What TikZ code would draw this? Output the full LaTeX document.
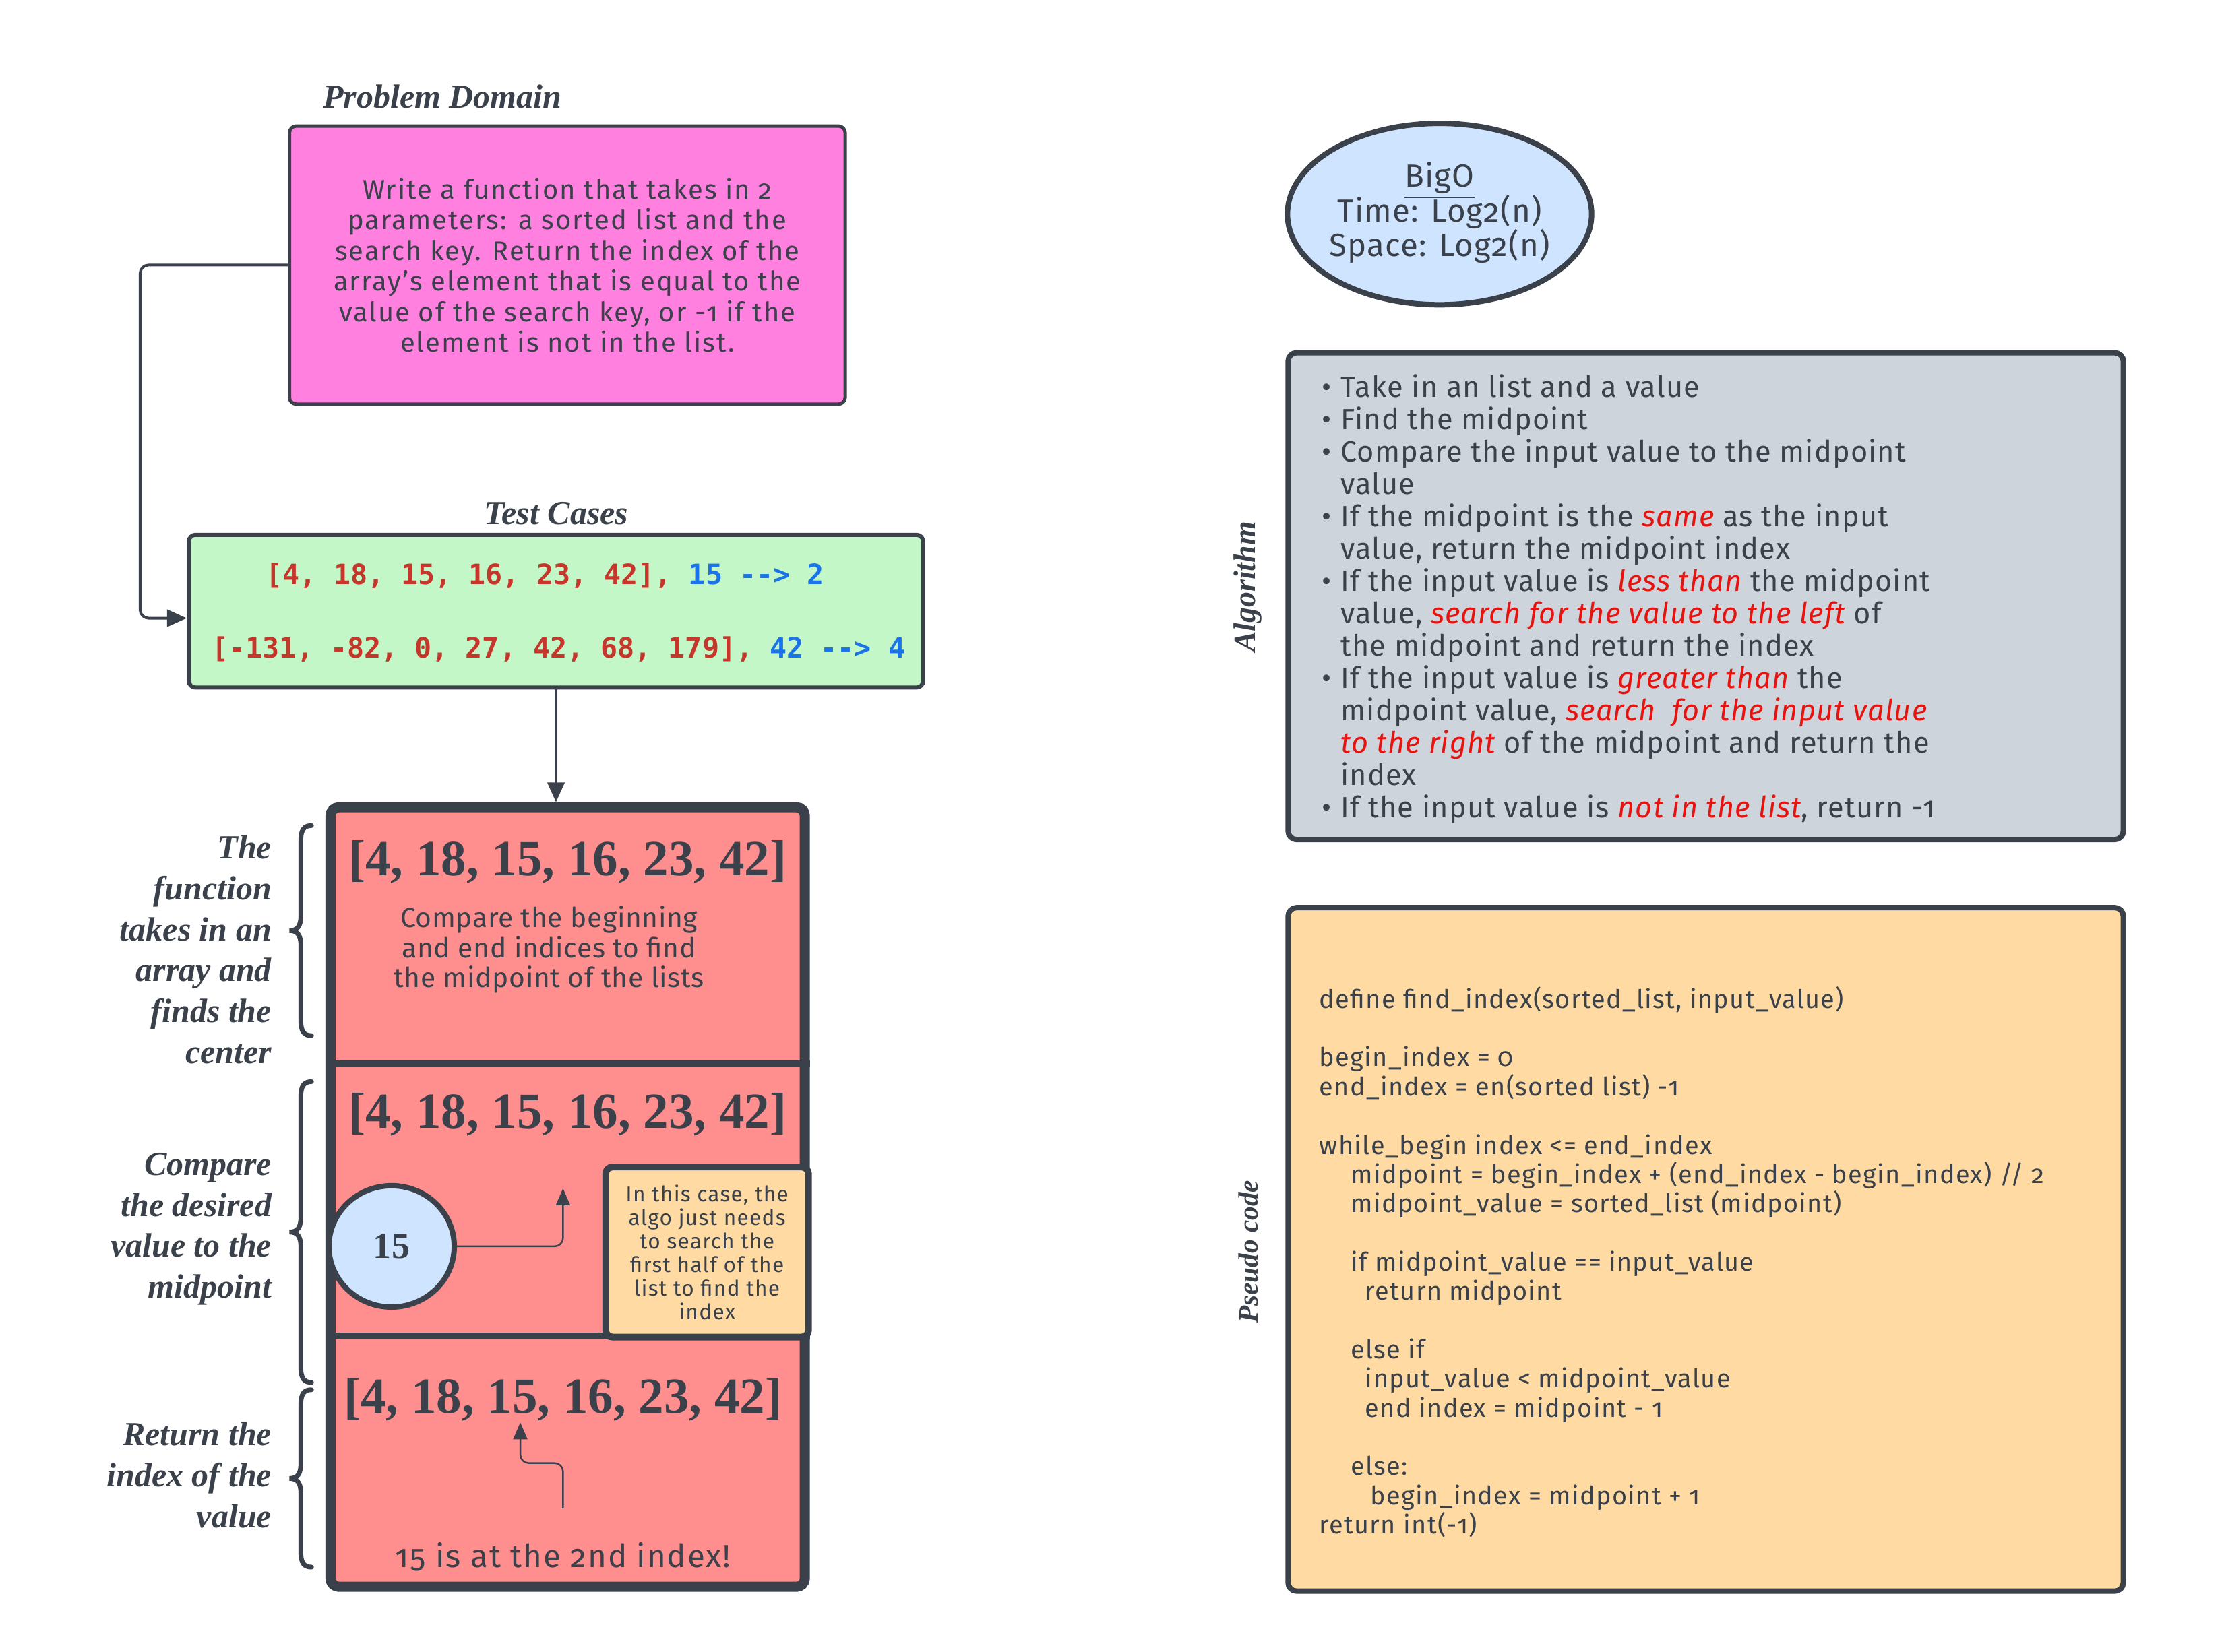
\documentclass[tikz,border=0pt]{standalone}
\usepackage{fontspec}
\setmainfont{Liberation Serif}
\newfontfamily\ui[Numbers=OldStyle]{Fira Sans}
\newfontfamily\mono{DejaVu Sans Mono}
\usetikzlibrary{arrows.meta,shapes.geometric}
\definecolor{ink}{HTML}{3A414A}
\definecolor{pinkfill}{HTML}{FF80DF}
\definecolor{greenfill}{HTML}{C3F7C8}
\definecolor{redfill}{HTML}{FF8F8F}
\definecolor{bluefill}{HTML}{CFE4FF}
\definecolor{grayfill}{HTML}{CED4DB}
\definecolor{yellowfill}{HTML}{FFDBA3}
\definecolor{cred}{HTML}{C7362B}
\definecolor{cblue}{HTML}{1A73E8}
\definecolor{tred}{HTML}{E8130F}
\def\pxu{0.237552pt}
\newcommand{\drawbrace}[2]{%
  \draw[ink, line width=1.68pt, line cap=round]
    (467,#1) .. controls (456,#1) and (451,#1+6) .. (451,#1+22)
    -- (451,{(#1+#2)/2-22})
    .. controls (451,{(#1+#2)/2-7}) and (446,{(#1+#2)/2}) .. (434,{(#1+#2)/2})
    .. controls (446,{(#1+#2)/2}) and (451,{(#1+#2)/2+7}) .. (451,{(#1+#2)/2+22})
    -- (451,#2-22) .. controls (451,#2-6) and (456,#2) .. (467,#2);}
\newcommand{\algline}[3]{\node[algtxt] (al#1) at (#2,{586+48.5*#1}) {#3};}
\newcommand{\algbullet}[1]{\node[algtxt] (ab#1) at (1981,{586+48.5*#1}) {•};}
\newcommand{\codeline}[3]{\node[codetxt] (cl#1) at (#2,{1502+43.8*#1}) {#3};}
\begin{document}
\begin{tikzpicture}[x=0.237552pt,y=-0.237552pt,
  box/.style={draw=ink, rounded corners=2.4pt, line width=1.2pt, inner sep=0pt},
  title/.style={font=\fontsize{12}{14}\selectfont\bfseries\itshape, text=ink},
  lbl/.style={font=\fontsize{12}{14.6}\selectfont\bfseries\itshape, text=ink, align=right, anchor=east, inner sep=0pt},
  arr/.style={draw=ink, line width=0.96pt, rounded corners=3pt, -{Triangle[length=7pt,width=6pt]}},
  thinarr/.style={draw=ink, line width=0.6pt, rounded corners=3pt, -{Triangle[length=6pt,width=5pt]}},
  biglist/.style={font=\fontsize{18}{20}\selectfont\bfseries, text=ink},
  algtxt/.style={font=\ui\addfontfeature{LetterSpace=2.7}\fontsize{10.4}{11.6}\selectfont, text=ink, anchor=mid west, inner sep=0pt},
  codetxt/.style={font=\ui\addfontfeature{LetterSpace=3.5}\fontsize{9.1}{10.5}\selectfont, text=ink, anchor=mid west, inner sep=0pt},
  bigotxt/.style={font=\ui\addfontfeature{LetterSpace=2.5}\fontsize{11.4}{12.24}\selectfont, text=ink}
]
\useasboundingbox (0,0) rectangle (3334,2476.3);

% ---------- left column ----------
\node[title] (tpd) at (663,145) {Problem Domain};
\node[box, fill=pinkfill, minimum width={833*\pxu}, minimum height={417*\pxu},
      align=center, font=\ui\addfontfeature{LetterSpace=5}\fontsize{9.6}{10.92}\selectfont, text=ink] (pink) at (850.5,397.5)
  {Write a function that takes in 2\\parameters: a sorted list and the\\search key. Return the index of the\\array’s element that is equal to the\\value of the search key, or -1 if the\\element is not in the list.};

\node[title] (ttc) at (834,770) {Test Cases};
\node[box, fill=greenfill, line width=1.44pt, minimum width={1101*\pxu}, minimum height={229*\pxu}] (green) at (833.5,916.5) {};
\node[anchor=mid west, inner sep=0pt, font=\mono\fontsize{10}{12}\selectfont\bfseries] (tc1) at (398,867)
  {\textcolor{cred}{[4, 18, 15, 16, 23, 42],} \textcolor{cblue}{15 -{}-{}> 2}};
\node[anchor=mid west, inner sep=0pt, font=\mono\fontsize{10}{12}\selectfont\bfseries] (tc2) at (317,977)
  {\textcolor{cred}{[-131, -82, 0, 27, 42, 68, 179],} \textcolor{cblue}{42 -{}-{}> 4}};

\coordinate (c1) at (210,397.5);
\coordinate (c2) at (210,927);
\draw[arr] (pink.west) -- (c1) -- (c2) -- (c2 -| green.west);

% container
\node[draw=ink, fill=redfill, line width=3.6pt, rounded corners=3pt, minimum width={711*\pxu}, minimum height={1169*\pxu}, inner sep=0pt] (cont) at (851,1795) {};
\draw[arr] (green.south) -- (green.south |- cont.north);
\coordinate (d1) at (851,1595);
\coordinate (d2) at (851,2003);
\draw[ink, line width=2.4pt] (cont.west |- d1) -- (cont.east |- d1);
\draw[ink, line width=2.4pt] (cont.west |- d2) -- (cont.east |- d2);

% section 1
\node[biglist] (l1) at (851,1292) {[4, 18, 15, 16, 23, 42]};
\node[align=center, font=\ui\addfontfeature{LetterSpace=1.5}\fontsize{9.8}{10.7}\selectfont, text=ink] (s1) at (823,1424)
  {Compare the beginning\\and end indices to find\\the midpoint of the lists};

% section 2
\node[biglist] (l2) at (851,1671) {[4, 18, 15, 16, 23, 42]};
\node[draw=ink, fill=bluefill, ellipse, line width=1.92pt, minimum width={188*\pxu}, minimum height={182*\pxu}, inner sep=0pt,
      font=\fontsize{13}{15}\selectfont\bfseries, text=ink] (circ) at (587,1869) {15};
\coordinate (a1) at (844,1782);
\draw[thinarr] (circ.east) -| (a1);
\node[draw=ink, fill=yellowfill, line width=2.4pt, rounded corners=2.4pt, minimum width={304*\pxu}, minimum height={255*\pxu}, inner sep=0pt,
      align=center, font=\ui\addfontfeature{LetterSpace=4}\fontsize{7.6}{8.4}\selectfont, text=ink] (note) at (1060,1877.5)
  {In this case, the\\algo just needs\\to search the\\first half of the\\list to find the\\index};

% section 3
\node[biglist] (l3) at (844,2099) {[4, 18, 15, 16, 23, 42]};
\coordinate (b0) at (844,2262);
\coordinate (b1) at (780,2133);
\draw[thinarr] (b0) -- ++(0,-68) -| (b1);
\node[font=\ui\addfontfeature{LetterSpace=4}\fontsize{11.4}{12}\selectfont, text=ink] (s3) at (844,2335) {15 is at the 2nd index!};

% braces and labels
\drawbrace{1238}{1553}
\drawbrace{1622}{2073}
\drawbrace{2084}{2350}
\node[lbl] (lb1) at (408,1424) {The\\function\\takes in an\\array and\\finds the\\center};
\node[lbl] (lb2) at (408,1843) {Compare\\the desired\\value to the\\midpoint};
\node[lbl] (lb3) at (408,2212) {Return the\\index of the\\value};

% ---------- right column ----------
\node[draw=ink, fill=bluefill, ellipse, line width=1.92pt, minimum width={456*\pxu}, minimum height={272*\pxu}, inner sep=0pt] (bigo) at (2158,321) {};
\node[bigotxt] (bigo1) at (2158,271) {\underline{BigO}};
\node[bigotxt] (bigo2) at (2158,318) {Time: Log2(n)};
\node[bigotxt] (bigo3) at (2158,369) {Space: Log2(n)};

\node[draw=ink, fill=grayfill, line width=1.92pt, rounded corners=3pt, minimum width={1252*\pxu}, minimum height={730*\pxu}, inner sep=0pt] (alg) at (2557,894) {};
\node[title, rotate=90, font=\fontsize{11}{12}\selectfont\bfseries\itshape] (talg) at (1871,880) {Algorithm};
\algbullet{0}\algline{0}{2009}{Take in an list and a value}
\algbullet{1}\algline{1}{2009}{Find the midpoint}
\algbullet{2}\algline{2}{2009}{Compare the input value to the midpoint}
\algline{3}{2009}{value}
\algbullet{4}\algline{4}{2009}{If the midpoint is the {\color{tred}\itshape same} as the input}
\algline{5}{2009}{value, return the midpoint index}
\algbullet{6}\algline{6}{2009}{If the input value is {\color{tred}\itshape less than} the midpoint}
\algline{7}{2009}{value, {\color{tred}\itshape search for the value to the left} of}
\algline{8}{2009}{the midpoint and return the index}
\algbullet{9}\algline{9}{2009}{If the input value is {\color{tred}\itshape greater than} the}
\algline{10}{2009}{midpoint value, {\color{tred}\itshape search\ \ for the input value}}
\algline{11}{2009}{{\color{tred}\itshape to the right} of the midpoint and return the}
\algline{12}{2009}{index}
\algbullet{13}\algline{13}{2009}{If the input value is {\color{tred}\itshape not in the list}, return -1}

\node[draw=ink, fill=yellowfill, line width=1.92pt, rounded corners=3pt, minimum width={1252*\pxu}, minimum height={1025*\pxu}, inner sep=0pt] (code) at (2557,1873.5) {};
\node[title, rotate=90, font=\fontsize{9.9}{12}\selectfont\bfseries\itshape] (tpc) at (1871,1877) {Pseudo code};
\codeline{0}{1977}{define find\_index(sorted\_list, input\_value)}
\codeline{2}{1977}{begin\_index = 0}
\codeline{3}{1977}{end\_index = en(sorted list) -1}
\codeline{5}{1977}{while\_begin index <= end\_index}
\codeline{6}{2024}{midpoint = begin\_index + (end\_index - begin\_index) // 2}
\codeline{7}{2024}{midpoint\_value = sorted\_list (midpoint)}
\codeline{9}{2024}{if midpoint\_value == input\_value}
\codeline{10}{2046}{return midpoint}
\codeline{12}{2024}{else if}
\codeline{13}{2046}{input\_value < midpoint\_value}
\codeline{14}{2046}{end index = midpoint - 1}
\codeline{16}{2024}{else:}
\codeline{17}{2054}{begin\_index = midpoint + 1}
\codeline{18}{1977}{return int(-1)}
\end{tikzpicture}
\end{document}
